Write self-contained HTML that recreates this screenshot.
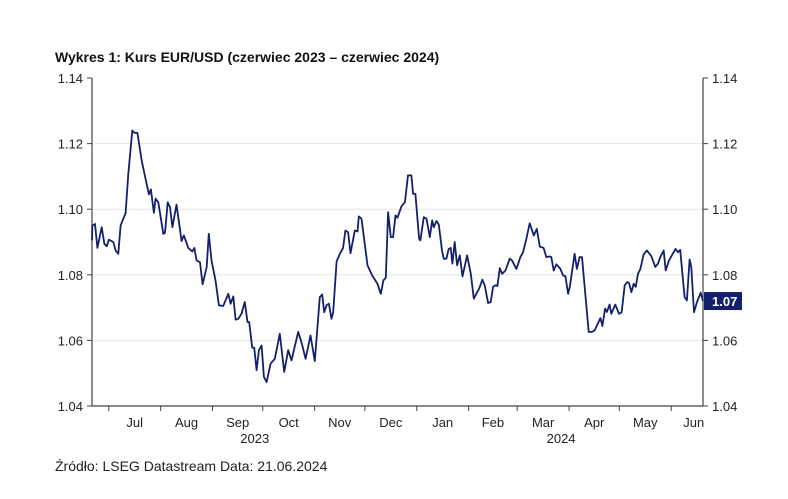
<!DOCTYPE html>
<html><head><meta charset="utf-8">
<style>
html,body{margin:0;padding:0;background:#fff;}
body{width:788px;height:494px;overflow:hidden;font-family:"Liberation Sans",sans-serif;}
svg text{font-family:"Liberation Sans",sans-serif;}
</style></head>
<body>
<svg id="chart" width="788" height="494" viewBox="0 0 788 494" xmlns="http://www.w3.org/2000/svg">
<text x="55" y="62" font-size="14" font-weight="bold" fill="#111">Wykres 1: Kurs EUR/USD (czerwiec 2023 – czerwiec 2024)</text>
<g id="grid"></g>
<g id="axes"></g>
<g id="series"></g>
<text x="55" y="471" font-size="14" fill="#222">Źródło: LSEG Datastream Data: 21.06.2024</text>
</svg>
<script>
const days=[0,0.2,1.8,3.2,5.8,7.4,8.8,10.1,12.7,14.1,15.7,17.1,20.1,21.7,24.1,25.3,27.1,29.7,34.0,35.2,37.0,38.0,39.6,42.6,43.6,45.2,46.6,48.0,50.5,53.5,54.9,57.5,59.9,61.1,62.5,64.5,66.1,68.5,69.8,71.4,73.8,75.8,78.4,81.4,82.8,84.4,85.8,87.4,89.3,91.3,92.9,93.9,95.7,96.9,98.3,99.7,101.3,102.7,104.3,106.7,109.2,112.2,114.8,117.2,119.2,123.2,125.2,127.6,130.5,133.1,136.1,137.5,138.7,140.1,141.5,143.1,144.1,146.1,148.1,150.0,151.4,153.0,154.4,156.0,157.0,158.6,159.4,161.0,164.6,167.4,170.5,172.5,174.1,175.5,176.9,178.5,179.9,181.3,182.5,184.9,186.9,188.8,190.8,191.8,193.2,195.4,196.2,198.2,199.8,201.8,203.2,204.2,205.8,207.2,209.1,210.1,211.7,213.1,214.3,215.3,216.7,218.1,219.7,221.3,224.1,226.3,228.1,229.6,231.2,233.2,234.6,236.6,238.2,239.6,241.0,242.2,243.6,245.0,247.0,249.5,250.9,253.5,255.9,257.5,259.5,261.5,263.9,265.7,267.5,269.8,271.4,273.4,274.4,275.8,277.4,279.8,281.4,282.8,284.4,285.4,288.3,289.7,291.3,292.7,296.7,298.7,300.3,303.7,304.9,306.5,307.6,309.2,310.2,312.6,314.8,316.4,318.2,319.8,320.8,322.2,323.6,324.8,326.2,327.6,329.5,331.5,334.1,336.5,338.1,339.5,341.5,342.7,344.7,348.6,350.0,351.4,354.0,355.4,357.0,358.0,359.6,361.4,363.6,365.0];
const rates=[1.0905,1.0950,1.0955,1.0882,1.0945,1.0894,1.0887,1.0907,1.0900,1.0874,1.0864,1.0950,1.0988,1.1108,1.1240,1.1233,1.1233,1.1148,1.1045,1.1060,1.0989,1.1032,1.1021,1.0925,1.0928,1.1021,1.1006,1.0945,1.1014,1.0903,1.0920,1.0882,1.0871,1.0882,1.0844,1.0838,1.0771,1.0824,1.0925,1.0844,1.0783,1.0707,1.0705,1.0742,1.0712,1.0734,1.0663,1.0666,1.0681,1.0717,1.0656,1.0656,1.0578,1.0578,1.0509,1.0570,1.0584,1.0489,1.0473,1.0529,1.0544,1.0620,1.0504,1.0570,1.0539,1.0626,1.0593,1.0544,1.0615,1.0537,1.0732,1.0740,1.0686,1.0707,1.0712,1.0666,1.0686,1.0841,1.0864,1.0882,1.0935,1.0930,1.0866,1.0907,1.0935,1.0932,1.0978,1.0971,1.0829,1.0798,1.0773,1.0742,1.0783,1.0791,1.0991,1.0915,1.0915,1.0981,1.0974,1.1009,1.1021,1.1103,1.1103,1.1047,1.1047,1.0910,1.0905,1.0976,1.0971,1.0915,1.0966,1.0945,1.0964,1.0953,1.0874,1.0849,1.0849,1.0879,1.0882,1.0834,1.0900,1.0829,1.0859,1.0795,1.0859,1.0803,1.0727,1.0742,1.0757,1.0785,1.0768,1.0714,1.0717,1.0763,1.0768,1.0766,1.0820,1.0803,1.0813,1.0849,1.0844,1.0818,1.0854,1.0869,1.0910,1.0957,1.0920,1.0940,1.0886,1.0882,1.0854,1.0856,1.0854,1.0813,1.0832,1.0818,1.0798,1.0796,1.0742,1.0763,1.0864,1.0818,1.0854,1.0854,1.0626,1.0626,1.0631,1.0668,1.0644,1.0697,1.0687,1.0709,1.0681,1.0709,1.0681,1.0685,1.0768,1.0778,1.0775,1.0747,1.0773,1.0763,1.0803,1.0818,1.0862,1.0874,1.0857,1.0824,1.0834,1.0854,1.0874,1.0813,1.0844,1.0879,1.0869,1.0876,1.0732,1.0722,1.0847,1.0824,1.0686,1.0717,1.0745,1.0720];
const yTicks=[1.04,1.06,1.08,1.10,1.12,1.14];
const yTickLabels=["1.04","1.06","1.08","1.10","1.12","1.14"];
const monthStarts=[10,41,72,102,133,163,194,225,254,285,315,346,376];
const monthLabels=["Jul","Aug","Sep","Oct","Nov","Dec","Jan","Feb","Mar","Apr","May","Jun"];
const yearLabels=["2023","2024"];
const yearMonthIdx=[2,8];
const lastLabel="1.07";

const X0=92,X1=703,Y0=406,DMAX=365;
const x=d=>X0+(Math.min(d,DMAX)/DMAX)*(X1-X0);
const y=v=>Y0-(v-1.04)/0.10*(Y0-78);
const NS="http://www.w3.org/2000/svg";
function mk(tag,attrs,parent,txt){const e=document.createElementNS(NS,tag);for(const k in attrs)e.setAttribute(k,attrs[k]);if(txt!==undefined)e.textContent=txt;parent.appendChild(e);return e;}
const grid=document.getElementById('grid'),axes=document.getElementById('axes'),series=document.getElementById('series');

yTicks.forEach((v,i)=>{
  if(v>1.04&&v<1.14){const g=mk('line',{x1:X0,x2:X1,y1:y(v),y2:y(v),stroke:'#e6e6e6','stroke-width':1},grid);
  
  }
  const tl=mk('line',{x1:X0-5,x2:X0,y1:y(v),y2:y(v),stroke:'#444'},axes);
  
  
  const tr=mk('line',{x1:X1,x2:X1+5,y1:y(v),y2:y(v),stroke:'#444'},axes);
  
  
  const l=mk('text',{x:X0-9,y:y(v)+5,'font-size':13,'text-anchor':'end',fill:'#222'},axes,yTickLabels[i]);
  
  
  const r=mk('text',{x:X1+9,y:y(v)+5,'font-size':13,fill:'#222'},axes,yTickLabels[i]);
  
  
});
let a=mk('line',{x1:X0,x2:X0,y1:78,y2:Y0,stroke:'#444','stroke-width':1.2},axes);


a=mk('line',{x1:X1,x2:X1,y1:78,y2:Y0,stroke:'#444','stroke-width':1.2},axes);


a=mk('line',{x1:X0,x2:X1,y1:Y0,y2:Y0,stroke:'#444','stroke-width':1.2},axes);


monthStarts.forEach(d=>{if(d<=DMAX){const t=mk('line',{x1:x(d),x2:x(d),y1:Y0,y2:Y0+5,stroke:'#444'},axes);
  
  }});
monthLabels.forEach((m,i)=>{const c=(monthStarts[i]+Math.min(monthStarts[i+1],DMAX+8))/2;
  const t=mk('text',{x:x(c),y:427,'font-size':13,'text-anchor':'middle',fill:'#222'},axes,m);
  
  });
yearLabels.forEach((yl,i)=>{const k=yearMonthIdx[i];
  const t=mk('text',{x:x(monthStarts[k+1])-8,y:443,'font-size':13,'text-anchor':'middle',fill:'#222'},axes,yl);
  
  });

const pts=days.map((d,i)=>x(d).toFixed(1)+','+y(rates[i]).toFixed(1)).join(' ');
const line=mk('polyline',{points:pts,fill:'none',stroke:'#14206b','stroke-width':1.8,'stroke-linejoin':'round'},series);


const ly=y(rates[rates.length-1]);
const box=mk('rect',{x:X1+1,y:ly-9,width:38,height:18,fill:'#14206b'},series);


const lt=mk('text',{x:X1+9,y:ly+5,'font-size':13,'font-weight':'bold',fill:'#fff'},series,lastLabel);


</script>
</body></html>
